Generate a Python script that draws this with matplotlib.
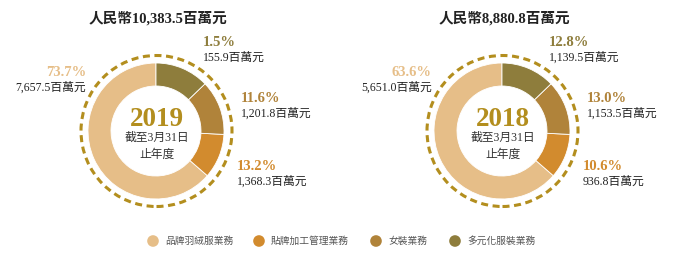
import matplotlib.pyplot as plt
from matplotlib.patches import Circle

# segments, order: 品牌羽絨服, 貼牌加工管理, 女裝, 多元化服裝
segments = ['品牌羽絨服業務', '貼牌加工管理業務', '女裝業務', '多元化服裝業務']
colors = ['#E6BE88', '#D28B2E', '#B0833A', '#8E7D3C']

years = ['2019', '2018']
totals = ['人民幣10,383.5百萬元', '人民幣8,880.8百萬元']
pct_2019 = [73.7, 13.2, 11.6, 1.5]
amt_2019 = ['7,657.5', '1,368.3', '1,201.8', '155.9']
pct_2018 = [63.6, 10.6, 13.0, 12.8]
amt_2018 = ['5,651.0', '936.8', '1,153.5', '1,139.5']
# the source graphic draws both rings with the same split (the 2018 one)
ring_share = [63.6, 10.6, 13.0, 12.8]

gold = '#B38E1E'
W, H = 692, 258
serif = ['Liberation Serif', 'Noto Sans CJK TC']
cjk = ['Noto Sans CJK TC', 'Liberation Serif']

fig = plt.figure(figsize=(W / 100, H / 100), dpi=100)
ax = fig.add_axes([0, 0, 1, 1])

def Y(y):
    return H - y

for i, (year, total, pcts, amts) in enumerate(zip(years, totals,
                                                [pct_2019, pct_2018],
                                                [amt_2019, amt_2018])):
    dx = 346 * i
    cx, cy = 156 + dx, Y(131)

    ax.pie(ring_share, colors=colors, radius=68, center=(cx, cy),
           startangle=90, counterclock=True,
           wedgeprops=dict(width=23, edgecolor='white', linewidth=0.6),
           frame=True)
    ax.add_patch(Circle((cx + 0.5, cy), 75.5, fill=False, edgecolor=gold,
                        lw=2.2, linestyle=(0, (2.3, 1.5))))

    ax.text(cx + 2, Y(18), total, ha='center', va='center', fontsize=10.5,
            fontweight='bold', family=serif, color='#222222')
    ax.text(cx + 1, Y(120), year, ha='center', va='center', fontsize=19.5,
            fontweight='bold', family='Liberation Serif', color=gold)
    ax.text(cx + 1, Y(138), '截至3月31日', ha='center', va='center', fontsize=8.5,
            family=serif, color='#333333')
    ax.text(cx + 1, Y(154), '止年度', ha='center', va='center', fontsize=8.5,
            family=cjk, color='#333333')

    # labels: (x, y_pct, y_amt, ha)
    spots = [(86, 72, 88, 'right'), (237, 166, 182, 'left'),
             (241, 99, 114, 'left'), (203, 43, 58, 'left')]
    for (x, yp, ya, ha), p, a, c in zip(spots, pcts, amts, colors):
        ax.text(x + dx, Y(yp), f'{p:.1f}%', ha=ha, va='center', fontsize=10.5,
                fontweight='bold', family='Liberation Serif', color=c)
        ax.text(x + dx, Y(ya), a + '百萬元', ha=ha, va='center', fontsize=8.5,
                family=serif, color='#222222')

# legend
leg_x = [153, 259, 376, 455]
for x, name, c in zip(leg_x, segments, colors):
    ax.scatter([x], [Y(241)], s=70, color=c, edgecolor='none')
    ax.text(x + 12, Y(241), name, ha='left', va='center', fontsize=7,
            family=cjk, color='#555555')

ax.set_xlim(0, W)
ax.set_ylim(0, H)
ax.set_aspect('equal')
ax.axis('off')

fig.savefig('out.png', dpi=100)
